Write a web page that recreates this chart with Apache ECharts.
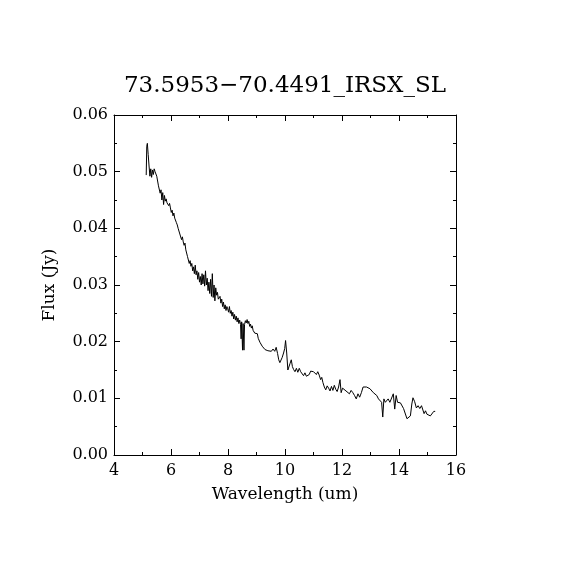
<!DOCTYPE html>
<html>
<head>
<meta charset="utf-8">
<script src="https://cdn.jsdelivr.net/npm/echarts@6/dist/echarts.min.js"></script>
<style>
  html, body { margin: 0; padding: 0; background: #fff; }
  #chart { width: 570px; height: 570px; }
</style>
</head>
<body>
<div id="chart"></div>
<script>
const wavelength = [
  5.13, 5.15, 5.17, 5.20, 5.23, 5.26, 5.29, 5.32, 5.35, 5.38, 5.41, 5.44, 5.47, 5.50,
  5.53, 5.56, 5.59, 5.62, 5.65, 5.68, 5.71, 5.74, 5.77, 5.80, 5.83, 5.86, 5.89, 5.92,
  5.95, 5.98, 6.01, 6.04, 6.07, 6.10, 6.13, 6.16, 6.19, 6.22, 6.25, 6.28, 6.31, 6.34,
  6.37, 6.40, 6.43, 6.46, 6.49, 6.52, 6.55, 6.58, 6.61, 6.64, 6.67, 6.70, 6.73, 6.76,
  6.79, 6.82, 6.85, 6.88, 6.91, 6.94, 6.97, 7.00, 7.03, 7.06, 7.09, 7.12, 7.15, 7.18,
  7.21, 7.24, 7.27, 7.30, 7.33, 7.36, 7.39, 7.42, 7.45, 7.48, 7.51, 7.54, 7.57, 7.60,
  7.63, 7.66, 7.69, 7.72, 7.75, 7.78, 7.81, 7.84, 7.87, 7.90, 7.93, 7.96, 7.99, 8.02,
  8.05, 8.08, 8.11, 8.14, 8.17, 8.20, 8.23, 8.26, 8.29, 8.32, 8.35, 8.38, 8.41, 8.44,
  8.46, 8.48, 8.51, 8.53, 8.56, 8.58, 8.61, 8.64, 8.67, 8.70, 8.73, 8.76, 8.79, 8.82,
  8.85, 8.88, 8.91, 8.94, 8.97, 9.00, 9.03, 9.06, 9.09, 9.12, 9.16, 9.20, 9.25, 9.30,
  9.35, 9.40, 9.46, 9.52, 9.58, 9.64, 9.69, 9.74, 9.78, 9.82, 9.86, 9.90, 9.95, 9.99,
  10.02, 10.06, 10.10, 10.14, 10.18, 10.22, 10.26, 10.30, 10.35, 10.40, 10.45, 10.50,
  10.55, 10.60, 10.65, 10.70, 10.75, 10.80, 10.85, 10.90, 10.95, 11.00, 11.05, 11.10,
  11.15, 11.20, 11.25, 11.29, 11.33, 11.38, 11.43, 11.48, 11.53, 11.58, 11.63, 11.68,
  11.73, 11.78, 11.83, 11.88, 11.93, 11.97, 12.02, 12.08, 12.14, 12.20, 12.26, 12.32,
  12.38, 12.44, 12.50, 12.56, 12.62, 12.68, 12.74, 12.80, 12.86, 12.92, 12.98, 13.04,
  13.10, 13.16, 13.22, 13.28, 13.34, 13.39, 13.43, 13.47, 13.52, 13.57, 13.62, 13.68,
  13.74, 13.80, 13.85, 13.90, 13.95, 14.00, 14.05, 14.10, 14.16, 14.22, 14.28, 14.34,
  14.40, 14.45, 14.49, 14.55, 14.61, 14.67, 14.73, 14.79, 14.84, 14.88, 14.93, 14.98,
  15.04, 15.10, 15.16, 15.22, 15.27
];

const flux = [
  0.0494, 0.0545, 0.0550, 0.0530, 0.0510, 0.0492, 0.0505, 0.0490, 0.0503, 0.0495, 0.0505, 0.0500, 0.0498, 0.0492,
  0.0490, 0.0475, 0.0478, 0.0462, 0.0468, 0.0450, 0.0463, 0.0442, 0.0458, 0.0448, 0.0452, 0.0445, 0.0447, 0.0440,
  0.0444, 0.0436, 0.0428, 0.0432, 0.0422, 0.0427, 0.0418, 0.0421, 0.0410, 0.0406, 0.0400, 0.0401, 0.0390, 0.0388,
  0.0380, 0.0385, 0.0376, 0.0370, 0.0374, 0.0362, 0.0360, 0.0350, 0.0348, 0.0338, 0.0343, 0.0333, 0.0338, 0.0325,
  0.0332, 0.0320, 0.0335, 0.0318, 0.0325, 0.0310, 0.0322, 0.0305, 0.0315, 0.0300, 0.0320, 0.0302, 0.0318, 0.0298,
  0.0325, 0.0300, 0.0312, 0.0290, 0.0305, 0.0285, 0.0310, 0.0280, 0.0320, 0.0278, 0.0300, 0.0272, 0.0295, 0.0282,
  0.0287, 0.0275, 0.0272, 0.0280, 0.0268, 0.0275, 0.0262, 0.0270, 0.0258, 0.0265, 0.0255, 0.0262, 0.0258, 0.0252,
  0.0262, 0.0250, 0.0255, 0.0245, 0.0252, 0.0240, 0.0248, 0.0238, 0.0245, 0.0235, 0.0242, 0.0232, 0.0238, 0.0230,
  0.0205, 0.0235, 0.0185, 0.0232, 0.0185, 0.0230, 0.0237, 0.0233, 0.0239, 0.0232, 0.0236, 0.0227, 0.0231, 0.0224,
  0.0228, 0.0220, 0.0222, 0.0215, 0.0217, 0.0212, 0.0214, 0.0206, 0.0208, 0.0199, 0.0197, 0.0192, 0.0191, 0.0186,
  0.0188, 0.0184, 0.0187, 0.0183, 0.0187, 0.0183, 0.0190, 0.0179, 0.0168, 0.0163, 0.0162, 0.0172, 0.0180, 0.0188,
  0.0202, 0.0180, 0.0150, 0.0147, 0.0162, 0.0168, 0.0156, 0.0151, 0.0147, 0.0153, 0.0146, 0.0153,
  0.0147, 0.0144, 0.0140, 0.0145, 0.0139, 0.0137, 0.0142, 0.0148, 0.0151, 0.0147, 0.0145, 0.0142,
  0.0147, 0.0141, 0.0133, 0.0137, 0.0128, 0.0120, 0.0115, 0.0122, 0.0118, 0.0113, 0.0121, 0.0114,
  0.0123, 0.0116, 0.0112, 0.0120, 0.0133, 0.0110, 0.0118, 0.0115, 0.0113, 0.0110, 0.0108, 0.0114,
  0.0110, 0.0105, 0.0099, 0.0108, 0.0102, 0.0110, 0.0120, 0.0123, 0.0120, 0.0117, 0.0117, 0.0114,
  0.0110, 0.0108, 0.0105, 0.0099, 0.0096, 0.0093, 0.0067, 0.0099, 0.0093, 0.0096, 0.0099, 0.0093,
  0.0096, 0.0108, 0.0081, 0.0105, 0.0093, 0.0096, 0.0092, 0.0090, 0.0082, 0.0084, 0.0064, 0.0061,
  0.0069, 0.0090, 0.0101, 0.0094, 0.0083, 0.0087, 0.0082, 0.0087, 0.0090, 0.0073, 0.0078, 0.0072,
  0.0069, 0.0069, 0.0072, 0.0077, 0.0077
];

const titleText = '73.5953\u221270.4491_IRSX_SL';
const font = 'DejaVu Serif';

const chart = echarts.init(document.getElementById('chart'));

const tickStyle = {
  axisLine: { show: true, onZero: false, lineStyle: { color: '#000', width: 1 } },
  axisTick: { show: true, inside: true, length: 6, lineStyle: { color: '#000' } },
  minorTick: { show: true, splitNumber: 2, length: 3, lineStyle: { color: '#000' } },
  splitLine: { show: false }
};

chart.setOption({
  animation: false,
  backgroundColor: '#fff',
  title: {
    text: titleText,
    left: 'center',
    top: 70,
    textStyle: { fontFamily: font, fontSize: 23, fontWeight: 'normal', color: '#000' }
  },
  grid: { left: 114, right: 114, top: 115, bottom: 115 },
  xAxis: [
    Object.assign({
      type: 'value', min: 4, max: 16, interval: 2, position: 'bottom',
      name: 'Wavelength (um)', nameLocation: 'middle', nameGap: 31,
      nameTextStyle: { fontFamily: font, fontSize: 17, color: '#000' },
      axisLabel: { fontFamily: font, fontSize: 16, color: '#000', margin: 8 }
    }, tickStyle),
    Object.assign({
      type: 'value', min: 4, max: 16, interval: 2, position: 'top',
      axisLabel: { show: false }
    }, tickStyle)
  ],
  yAxis: [
    Object.assign({
      type: 'value', min: 0, max: 0.06, interval: 0.01, position: 'left',
      name: 'Flux (Jy)', nameLocation: 'middle', nameGap: 56,
      nameTextStyle: { fontFamily: font, fontSize: 17, color: '#000' },
      axisLabel: {
        fontFamily: font, fontSize: 16, color: '#000', margin: 6,
        formatter: v => v.toFixed(2)
      }
    }, tickStyle),
    Object.assign({
      type: 'value', min: 0, max: 0.06, interval: 0.01, position: 'right',
      axisLabel: { show: false }
    }, tickStyle)
  ],
  series: [{
    type: 'line',
    data: wavelength.map((w, i) => [w, flux[i]]),
    showSymbol: false,
    symbol: 'none',
    lineStyle: { color: '#000', width: 1 },
    xAxisIndex: 0,
    yAxisIndex: 0
  }]
});
</script>
</body>
</html>
